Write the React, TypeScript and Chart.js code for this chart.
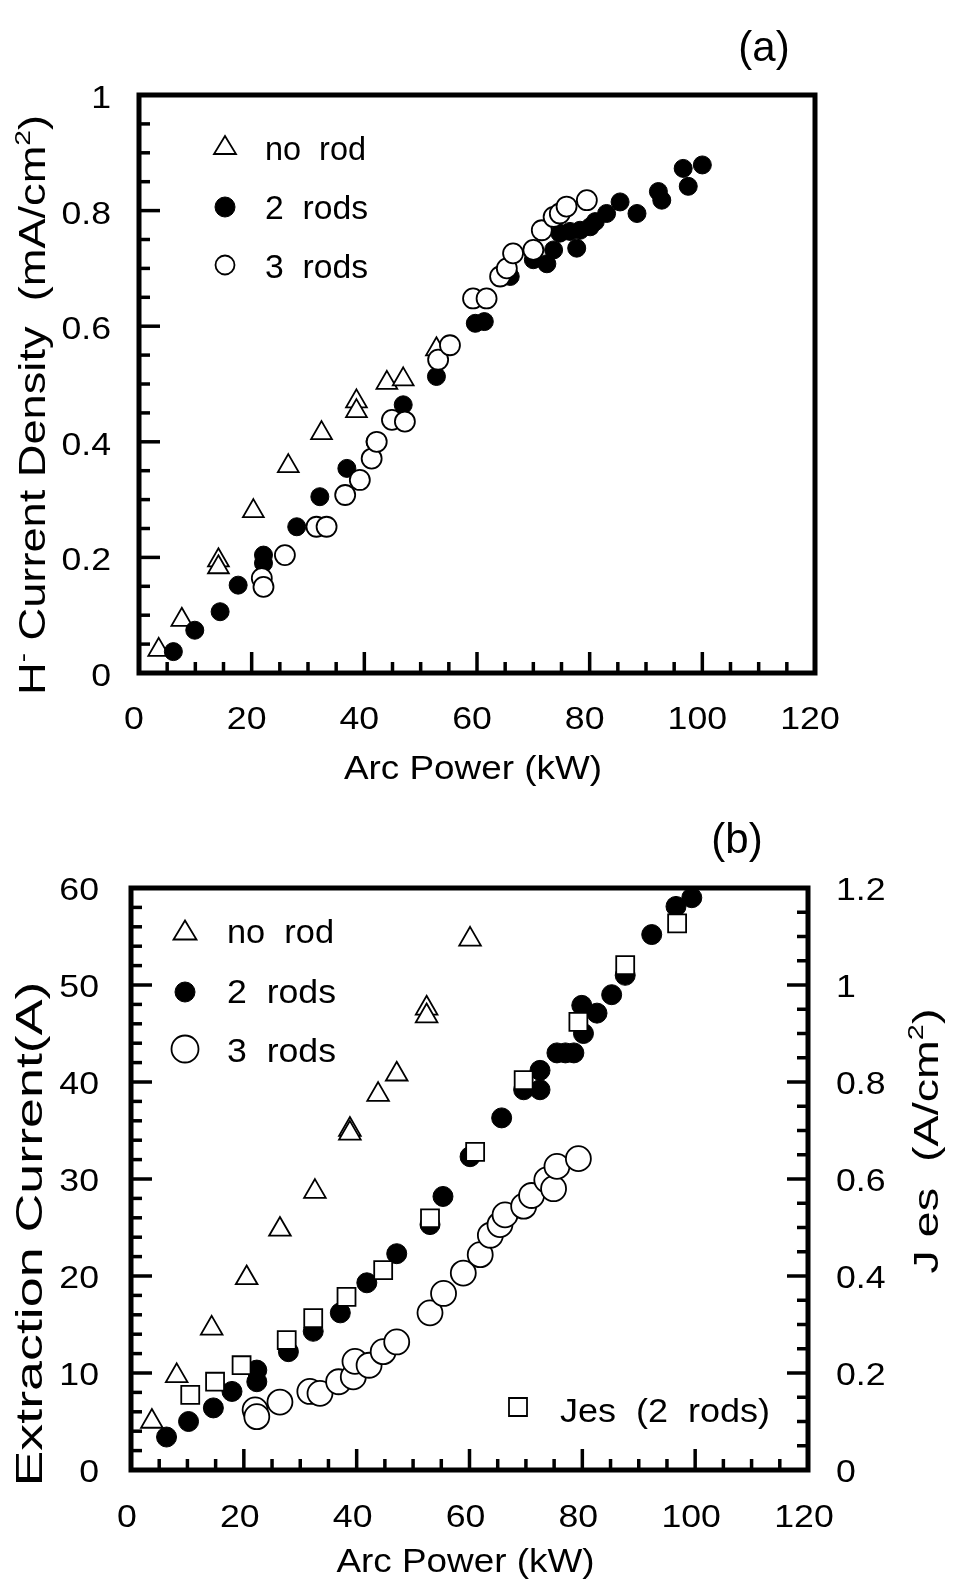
import React, { useEffect, useRef } from 'react';
import { Chart, registerables } from 'chart.js';

Chart.register(...registerables);

// ---------- Panel (a): H- current density vs arc power ----------
const aNoRodX = [3.5, 7.6, 14.1, 14.1, 20.3, 26.5, 32.4, 38.6, 38.6, 44.0, 46.9, 52.8];
const aNoRodY = [0.040, 0.092, 0.195, 0.183, 0.280, 0.358, 0.415, 0.470, 0.453, 0.502, 0.508, 0.560];

const aTwoRodsX = [6.1, 9.9, 14.4, 17.6, 22.1, 22.1, 28.0, 32.1, 36.9, 41.9, 46.9, 52.8, 59.7, 61.3, 65.9, 70.0, 72.4, 73.6, 74.7, 76.5, 77.7, 78.3, 80.1, 81.0, 83.0, 85.4, 88.4, 92.2, 92.8, 96.6, 97.5, 100.0];
const aTwoRodsY = [0.037, 0.074, 0.106, 0.152, 0.204, 0.190, 0.253, 0.305, 0.354, 0.400, 0.464, 0.513, 0.605, 0.608, 0.686, 0.715, 0.708, 0.732, 0.761, 0.764, 0.735, 0.766, 0.772, 0.781, 0.795, 0.815, 0.795, 0.833, 0.818, 0.873, 0.842, 0.879];

const aThreeRodsX = [21.8, 22.1, 25.9, 31.5, 33.3, 36.6, 39.2, 41.3, 42.2, 44.9, 47.2, 53.1, 55.2, 59.3, 61.7, 64.1, 65.3, 66.4, 70.0, 71.5, 73.6, 74.7, 75.9, 79.5];
const aThreeRodsY = [0.164, 0.149, 0.204, 0.253, 0.253, 0.308, 0.334, 0.371, 0.400, 0.438, 0.435, 0.542, 0.567, 0.648, 0.648, 0.686, 0.700, 0.726, 0.732, 0.766, 0.789, 0.795, 0.807, 0.818];

// ---------- Panel (b): extraction current / Jes vs arc power ----------
const bNoRodX = [3.7, 8.1, 14.3, 20.5, 26.4, 32.6, 38.8, 38.8, 43.8, 47.1, 52.4, 52.4, 60.1];
const bNoRodY = [5.0, 9.7, 14.6, 19.8, 24.8, 28.7, 35.1, 34.7, 38.7, 40.8, 47.6, 46.8, 54.7];

const bTwoRodsX = [6.3, 10.2, 14.6, 17.9, 22.3, 22.3, 27.9, 32.3, 37.1, 41.8, 47.1, 53.0, 55.3, 60.1, 65.7, 69.6, 72.5, 72.5, 75.5, 77.0, 78.5, 80.2, 79.9, 82.6, 85.2, 87.6, 92.3, 96.6, 99.4];
const bTwoRodsY = [3.4, 5.0, 6.4, 8.1, 10.3, 9.1, 12.2, 14.3, 16.2, 19.3, 22.3, 25.3, 28.2, 32.3, 36.3, 39.2, 39.2, 41.2, 43.0, 43.0, 43.0, 45.0, 47.9, 47.1, 49.0, 51.0, 55.2, 58.1, 59.0];

const bThreeRodsX = [22.0, 22.3, 26.4, 31.7, 33.5, 36.8, 39.4, 39.7, 42.2, 44.7, 47.1, 53.0, 55.4, 58.9, 61.9, 63.7, 65.4, 66.3, 69.6, 71.0, 73.7, 74.9, 75.5, 79.3];
const bThreeRodsY = [6.2, 5.5, 7.0, 8.1, 7.9, 9.1, 9.6, 11.2, 10.8, 12.2, 13.2, 16.2, 18.2, 20.3, 22.2, 24.2, 25.3, 26.3, 27.2, 28.3, 29.9, 29.0, 31.3, 32.1];

const bJesX = [10.5, 14.9, 19.6, 27.6, 32.3, 38.2, 44.7, 53.0, 61.0, 69.6, 79.3, 87.6, 96.8];
const bJesY = [0.155, 0.182, 0.216, 0.268, 0.313, 0.357, 0.412, 0.519, 0.656, 0.804, 0.924, 1.041, 1.127];

// ---------- Ticks and labels ----------
const xTickValues = [0, 20, 40, 60, 80, 100, 120];
const xTickLabels = ['0', '20', '40', '60', '80', '100', '120'];
const aYTickValues = [0, 0.2, 0.4, 0.6, 0.8, 1];
const aYTickLabels = ['0', '0.2', '0.4', '0.6', '0.8', '1'];
const bYTickValues = [0, 10, 20, 30, 40, 50, 60];
const bYTickLabels = ['0', '10', '20', '30', '40', '50', '60'];
const bY2TickValues = [0, 0.2, 0.4, 0.6, 0.8, 1.0, 1.2];
const bY2TickLabels = ['0', '0.2', '0.4', '0.6', '0.8', '1', '1.2'];

const legendLabels = ['no  rod', '2  rods', '3  rods'];
const jesLabel = 'Jes  (2  rods)';
const xTitle = 'Arc Power (kW)';
const bLeftTitle = 'Extraction Current(A)';

const FONT = '"Liberation Sans", Arial, Helvetica, sans-serif';

const pts = (xs: number[], ys: number[]) => xs.map((x, i) => ({ x, y: ys[i] }));

type Seg = { t: string; sup?: boolean };

function setFont(ctx: CanvasRenderingContext2D, size: number) {
  ctx.font = `${size}px ${FONT}`;
}

// text with horizontal scale factor (sx) or a target width
function drawText(
  ctx: CanvasRenderingContext2D,
  text: string,
  x: number,
  y: number,
  size: number,
  align: 'left' | 'center' | 'right',
  sx: number = 1,
  targetW: number = 0
) {
  ctx.save();
  setFont(ctx, size);
  const w = ctx.measureText(text).width;
  const s = targetW > 0 ? targetW / w : sx;
  const ww = w * s;
  let left = x;
  if (align === 'center') left = x - ww / 2;
  else if (align === 'right') left = x - ww;
  ctx.translate(left, y);
  ctx.scale(s, 1);
  ctx.textAlign = 'left';
  ctx.textBaseline = 'alphabetic';
  ctx.fillText(text, 0, size * 0.358);
  ctx.restore();
}

function drawRich(
  ctx: CanvasRenderingContext2D,
  segs: Seg[],
  cx: number,
  cy: number,
  size: number,
  rot: number,
  targetLen: number
) {
  ctx.save();
  ctx.translate(cx, cy);
  ctx.rotate(rot);
  const widths: number[] = [];
  let total = 0;
  segs.forEach((s) => {
    setFont(ctx, s.sup ? size * 0.62 : size);
    const w = ctx.measureText(s.t).width;
    widths.push(w);
    total += w;
  });
  const sx = targetLen > 0 ? targetLen / total : 1;
  ctx.scale(sx, 1);
  ctx.textAlign = 'left';
  ctx.textBaseline = 'alphabetic';
  let x = -total / 2;
  const base = size * 0.358;
  segs.forEach((s, i) => {
    setFont(ctx, s.sup ? size * 0.62 : size);
    ctx.fillText(s.t, x, s.sup ? base - size * 0.42 : base);
    x += widths[i];
  });
  ctx.restore();
}

function drawTickMarks(
  ctx: CanvasRenderingContext2D,
  scale: any,
  area: any,
  side: 'bottom' | 'left' | 'right',
  from: number,
  to: number,
  step: number,
  majorEvery: number,
  minorLen: number,
  majorLen: number
) {
  const n = Math.round((to - from) / step);
  for (let i = 0; i <= n; i++) {
    const v = from + i * step;
    const len = i % majorEvery === 0 ? majorLen : minorLen;
    const p = scale.getPixelForValue(v);
    ctx.beginPath();
    if (side === 'bottom') {
      ctx.moveTo(p, area.bottom);
      ctx.lineTo(p, area.bottom - len);
    } else if (side === 'left') {
      ctx.moveTo(area.left, p);
      ctx.lineTo(area.left + len, p);
    } else {
      ctx.moveTo(area.right, p);
      ctx.lineTo(area.right - len, p);
    }
    ctx.stroke();
  }
}

function triangleMarker(ctx: CanvasRenderingContext2D, cx: number, cy: number, w: number, h: number, lw: number) {
  ctx.save();
  ctx.lineWidth = lw;
  ctx.fillStyle = '#fff';
  ctx.beginPath();
  ctx.moveTo(cx, cy - h / 2);
  ctx.lineTo(cx + w / 2, cy + h / 2);
  ctx.lineTo(cx - w / 2, cy + h / 2);
  ctx.closePath();
  ctx.fill();
  ctx.stroke();
  ctx.restore();
}

function circleMarker(ctx: CanvasRenderingContext2D, cx: number, cy: number, r: number, filled: boolean, lw: number) {
  ctx.save();
  ctx.lineWidth = lw;
  ctx.beginPath();
  ctx.arc(cx, cy, r, 0, Math.PI * 2);
  ctx.fillStyle = filled ? '#000' : '#fff';
  ctx.fill();
  ctx.stroke();
  ctx.restore();
}

const TICK_SIZE = 31;
const TICK_SX = 1.15;

const panelAPlugin = {
  id: 'panelA',
  afterDraw(chart: any) {
    const { ctx, chartArea: a } = chart;
    const x = chart.scales.x;
    const y = chart.scales.y;
    ctx.save();
    ctx.strokeStyle = '#000';
    ctx.fillStyle = '#000';
    ctx.lineWidth = 3.5;
    drawTickMarks(ctx, x, a, 'bottom', 0, 120, 5, 4, 11, 21);
    drawTickMarks(ctx, y, a, 'left', 0, 1, 0.05, 4, 11, 21);
    ctx.lineWidth = 5;
    ctx.strokeRect(a.left, a.top, a.right - a.left, a.bottom - a.top);

    xTickValues.forEach((v, i) =>
      drawText(ctx, xTickLabels[i], x.getPixelForValue(v) - 5, a.bottom + 45, TICK_SIZE, 'center', TICK_SX)
    );
    aYTickValues.forEach((v, i) =>
      drawText(ctx, aYTickLabels[i], a.left - 28, y.getPixelForValue(v) + 2, TICK_SIZE, 'right', TICK_SX)
    );
    drawText(ctx, xTitle, (a.left + a.right) / 2 - 4, a.bottom + 94, 34, 'center', 1, 258);
    drawRich(
      ctx,
      [{ t: 'H' }, { t: '-', sup: true }, { t: ' Current Density  (mA/cm' }, { t: '2', sup: true }, { t: ')' }],
      32,
      405,
      37,
      -Math.PI / 2,
      580
    );
    drawText(ctx, '(a)', 764, 46, 42, 'center', 1);

    // legend
    ctx.strokeStyle = '#000';
    triangleMarker(ctx, a.left + 86, a.top + 50, 22, 18, 1.8);
    circleMarker(ctx, a.left + 86, a.top + 112, 10, true, 1);
    circleMarker(ctx, a.left + 86, a.top + 170, 9.5, false, 1.8);
    ctx.fillStyle = '#000';
    drawText(ctx, legendLabels[0], a.left + 126, a.top + 53, 34, 'left', 1, 101);
    drawText(ctx, legendLabels[1], a.left + 126, a.top + 112, 34, 'left', 1, 103);
    drawText(ctx, legendLabels[2], a.left + 126, a.top + 171, 34, 'left', 1, 103);
    ctx.restore();
  },
};

const panelBPlugin = {
  id: 'panelB',
  afterDraw(chart: any) {
    const { ctx, chartArea: a } = chart;
    const x = chart.scales.x;
    const y = chart.scales.y;
    const y2 = chart.scales.y2;
    ctx.save();
    ctx.strokeStyle = '#000';
    ctx.fillStyle = '#000';
    ctx.lineWidth = 3.5;
    drawTickMarks(ctx, x, a, 'bottom', 0, 120, 5, 4, 11, 21);
    drawTickMarks(ctx, y, a, 'left', 0, 60, 2, 5, 11, 21);
    drawTickMarks(ctx, y2, a, 'right', 0, 1.2, 0.05, 4, 11, 21);
    ctx.lineWidth = 5;
    ctx.strokeRect(a.left, a.top, a.right - a.left, a.bottom - a.top);

    xTickValues.forEach((v, i) =>
      drawText(ctx, xTickLabels[i], x.getPixelForValue(v) - 4, a.bottom + 46, TICK_SIZE, 'center', TICK_SX)
    );
    bYTickValues.forEach((v, i) =>
      drawText(ctx, bYTickLabels[i], a.left - 32, y.getPixelForValue(v) + 1, TICK_SIZE, 'right', TICK_SX)
    );
    bY2TickValues.forEach((v, i) =>
      drawText(ctx, bY2TickLabels[i], a.right + 28, y2.getPixelForValue(v) + 1, TICK_SIZE, 'left', TICK_SX)
    );
    drawText(ctx, xTitle, (a.left + a.right) / 2 - 4, a.bottom + 90, 34, 'center', 1, 258);
    drawRich(ctx, [{ t: bLeftTitle }], 29, 444, 36, -Math.PI / 2, 505);
    drawRich(
      ctx,
      [{ t: 'J es  (A/cm' }, { t: '2', sup: true }, { t: ')' }],
      925,
      351,
      35,
      -Math.PI / 2,
      265
    );
    drawText(ctx, '(b)', 737, 48, 42, 'center', 1);

    // legend
    triangleMarker(ctx, a.left + 54, a.top + 42, 23, 19, 1.8);
    circleMarker(ctx, a.left + 54, a.top + 104, 10, true, 1);
    circleMarker(ctx, a.left + 54, a.top + 161, 13.5, false, 1.8);
    ctx.fillStyle = '#000';
    drawText(ctx, legendLabels[0], a.left + 96, a.top + 43, 34, 'left', 1, 107);
    drawText(ctx, legendLabels[1], a.left + 96, a.top + 103, 34, 'left', 1, 109);
    drawText(ctx, legendLabels[2], a.left + 96, a.top + 162, 34, 'left', 1, 109);

    ctx.save();
    ctx.lineWidth = 1.8;
    ctx.fillStyle = '#fff';
    ctx.beginPath();
    ctx.rect(518 - 9, a.top + 519 - 9, 18, 18);
    ctx.fill();
    ctx.stroke();
    ctx.restore();
    ctx.fillStyle = '#000';
    drawText(ctx, jesLabel, 560, a.top + 522, 34, 'left', 1, 210);
    ctx.restore();
  },
};

const baseOptions = (padding: any, scales: any) => ({
  animation: false as const,
  responsive: false,
  devicePixelRatio: 1,
  events: [] as any[],
  layout: { padding },
  scales,
  plugins: { legend: { display: false }, tooltip: { enabled: false } },
});

export default function App() {
  const refA = useRef<HTMLCanvasElement | null>(null);
  const refB = useRef<HTMLCanvasElement | null>(null);

  useEffect(() => {
    if (!refA.current || !refB.current) return;
    const chartA = new Chart(refA.current, {
      type: 'scatter',
      data: {
        datasets: [
          {
            label: '3 rods',
            data: pts(aThreeRodsX, aThreeRodsY),
            pointStyle: 'circle',
            pointRadius: 10,
            backgroundColor: '#fff',
            borderColor: '#000',
            borderWidth: 1.8,
            clip: false,
          },
          {
            label: '2 rods',
            data: pts(aTwoRodsX, aTwoRodsY),
            pointStyle: 'circle',
            pointRadius: 9,
            backgroundColor: '#000',
            borderColor: '#000',
            borderWidth: 1,
            clip: false,
          },
          {
            label: 'no rod',
            data: pts(aNoRodX, aNoRodY),
            pointStyle: 'triangle',
            pointRadius: 12,
            backgroundColor: '#fff',
            borderColor: '#000',
            borderWidth: 1.8,
            clip: false,
          },
        ],
      },
      options: baseOptions(
        { left: 139, top: 95, right: 140, bottom: 117 },
        {
          x: { type: 'linear', min: 0, max: 120, display: false },
          y: { type: 'linear', min: 0, max: 1, display: false },
        }
      ) as any,
      plugins: [panelAPlugin],
    });

    const chartB = new Chart(refB.current, {
      type: 'scatter',
      data: {
        datasets: [
          {
            label: 'Jes (2 rods)',
            data: pts(bJesX, bJesY),
            yAxisID: 'y2',
            pointStyle: 'rect',
            pointRadius: 12.7,
            backgroundColor: '#fff',
            borderColor: '#000',
            borderWidth: 1.8,
            clip: false,
          },
          {
            label: '2 rods',
            data: pts(bTwoRodsX, bTwoRodsY),
            yAxisID: 'y',
            pointStyle: 'circle',
            pointRadius: 10,
            backgroundColor: '#000',
            borderColor: '#000',
            borderWidth: 1,
            clip: false,
          },
          {
            label: '3 rods',
            data: pts(bThreeRodsX, bThreeRodsY),
            yAxisID: 'y',
            pointStyle: 'circle',
            pointRadius: 12.5,
            backgroundColor: '#fff',
            borderColor: '#000',
            borderWidth: 1.8,
            clip: false,
          },
          {
            label: 'no rod',
            data: pts(bNoRodX, bNoRodY),
            yAxisID: 'y',
            pointStyle: 'triangle',
            pointRadius: 12.5,
            backgroundColor: '#fff',
            borderColor: '#000',
            borderWidth: 1.8,
            clip: false,
          },
        ],
      },
      options: baseOptions(
        { left: 131, top: 98, right: 147, bottom: 113 },
        {
          x: { type: 'linear', min: 0, max: 120, display: false },
          y: { type: 'linear', position: 'left', min: 0, max: 60, display: false },
          y2: { type: 'linear', position: 'right', min: 0, max: 1.2, display: false },
        }
      ) as any,
      plugins: [panelBPlugin],
    });

    return () => {
      chartA.destroy();
      chartB.destroy();
    };
  }, []);

  return (
    <div style={{ position: 'absolute', left: 0, top: 0, width: 955, height: 1583, background: '#fff' }}>
      <canvas
        ref={refA}
        width={955}
        height={790}
        style={{ position: 'absolute', left: 0, top: 0, width: 955, height: 790 }}
      />
      <canvas
        ref={refB}
        width={955}
        height={793}
        style={{ position: 'absolute', left: 0, top: 790, width: 955, height: 793 }}
      />
    </div>
  );
}
